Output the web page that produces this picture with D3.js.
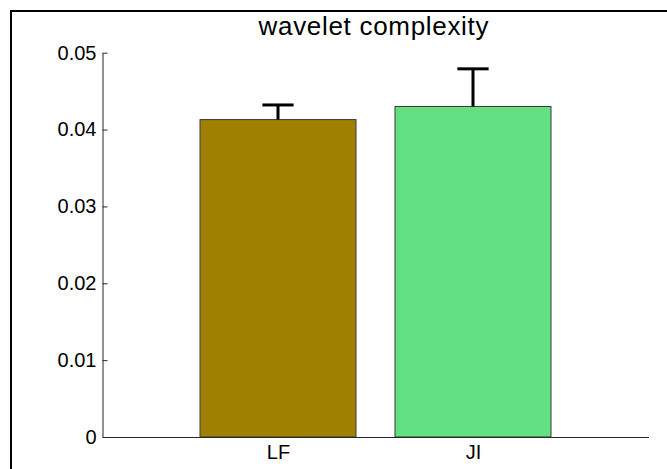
<!DOCTYPE html>
<html>
<head>
<meta charset="utf-8">
<script src="https://cdn.jsdelivr.net/npm/d3@7"></script>
<style>
  html, body { margin: 0; padding: 0; background: #fff; }
  svg { display: block; }
  text { font-family: "Liberation Sans", Arial, Helvetica, sans-serif; fill: #000; }
</style>
</head>
<body>
<svg id="chart" width="667" height="469"></svg>
<script>
// Group names, mean values and upper error (one-sided) for each bar
const categories = ["LF", "JI"];
const means = [0.0413, 0.0430];
const errors = [0.0019, 0.0049];
const barColors = ["#a08000", "#62e082"];
const yTicks = [0, 0.01, 0.02, 0.03, 0.04, 0.05];
const yTickLabels = ["0", "0.01", "0.02", "0.03", "0.04", "0.05"];
const titleText = "wavelet complexity";

const svg = d3.select("#chart");

// Outer figure frame
svg.append("rect")
  .attr("x", 11).attr("y", 11)
  .attr("width", 720).attr("height", 520)
  .attr("fill", "none")
  .attr("stroke", "#000")
  .attr("stroke-width", 2);

// Bars sit at positions 1, 2 on a numeric axis with limits [0.1, 2.9]
const x = d3.scaleLinear().domain([0.1, 2.9]).range([102.5, 648.5]);
const y = d3.scaleLinear().domain([0, 0.05]).range([437, 52.7]);
const barWidth = 0.8;

const data = categories.map((c, i) => ({ name: c, pos: i + 1, mean: means[i], err: errors[i], color: barColors[i] }));

// Bars
svg.append("g").selectAll("rect")
  .data(data)
  .join("rect")
  .attr("x", d => x(d.pos - barWidth / 2))
  .attr("y", d => y(d.mean))
  .attr("width", d => x(d.pos + barWidth / 2) - x(d.pos - barWidth / 2))
  .attr("height", d => y(0) - y(d.mean))
  .attr("fill", d => d.color)
  .attr("stroke", "#3a3a3a")
  .attr("stroke-width", 1);

// Upper error bars
const eb = svg.append("g").attr("stroke", "#000").attr("stroke-width", 3);
eb.selectAll("line.stem")
  .data(data)
  .join("line")
  .attr("class", "stem")
  .attr("x1", d => x(d.pos)).attr("x2", d => x(d.pos))
  .attr("y1", d => y(d.mean)).attr("y2", d => y(d.mean + d.err));
eb.selectAll("line.cap")
  .data(data)
  .join("line")
  .attr("class", "cap")
  .attr("x1", d => x(d.pos - 0.08)).attr("x2", d => x(d.pos + 0.08))
  .attr("y1", d => y(d.mean + d.err)).attr("y2", d => y(d.mean + d.err));

// Y axis with inward ticks
const yAxis = d3.axisLeft(y)
  .tickValues(yTicks)
  .tickFormat((d, i) => yTickLabels[i])
  .tickSizeInner(-5)
  .tickSizeOuter(0)
  .tickPadding(6);
const gy = svg.append("g").attr("transform", "translate(102.5,0)").call(yAxis);
gy.select(".domain").attr("stroke", "#262626");
gy.selectAll(".tick line").attr("stroke", "#262626");
gy.selectAll(".tick text").attr("font-size", 20).attr("font-family", "Liberation Sans, Arial, sans-serif").attr("fill", "#000");

// X axis with category labels under each bar
const xAxis = d3.axisBottom(x)
  .tickValues(data.map(d => d.pos))
  .tickFormat((d, i) => categories[i])
  .tickSize(0)
  .tickPadding(8);
const gx = svg.append("g").attr("transform", "translate(0,437)").call(xAxis);
gx.select(".domain").attr("stroke", "#262626");
gx.selectAll(".tick text").attr("font-size", 20).attr("font-family", "Liberation Sans, Arial, sans-serif").attr("fill", "#000");

// Title
svg.append("text")
  .attr("x", 373.5)
  .attr("y", 35)
  .attr("text-anchor", "middle")
  .attr("font-size", 26)
  .attr("textLength", 230)
  .attr("lengthAdjust", "spacing")
  .text(titleText);
</script>
</body>
</html>
